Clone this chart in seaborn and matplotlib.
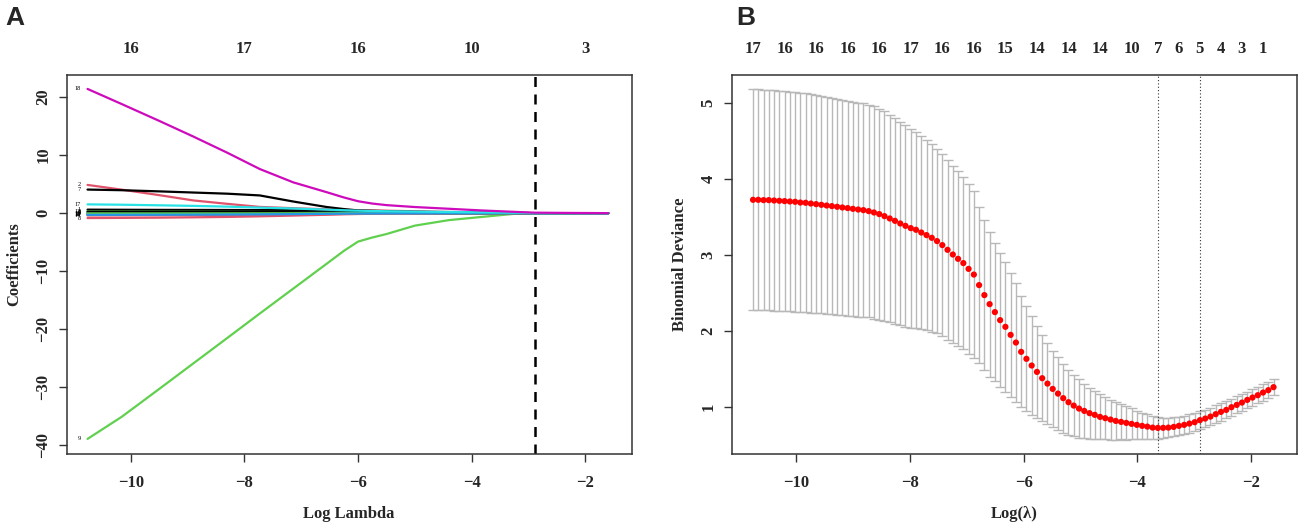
import numpy as np
import pandas as pd
import matplotlib
matplotlib.use("Agg")
import matplotlib.pyplot as plt
import seaborn as sns

# ---------------- data ----------------
# Panel A: coefficient paths (log lambda grid subset)
coef_loglam = [-10.76, -10.16, -9.5, -8.9, -8.3, -7.73, -7.14, -6.55, -6.25, -6.0,
               -5.75, -5.5, -5.0, -4.4, -3.8, -3.2, -2.9, -2.5, -2.0, -1.6]
coef_v1 = [0.60, 0.58, 0.56, 0.55, 0.54, 0.52, 0.50, 0.48, 0.46, 0.44, 0.40, 0.35, 0.25, 0.15, 0.08, 0.03, 0, 0, 0, 0]
coef_v2 = [4.86, 4.05, 3.10, 2.19, 1.60, 1.07, 0.85, 0.66, 0.58, 0.52, 0.47, 0.42, 0.32, 0.20, 0.10, 0.03, 0, 0, 0, 0]
coef_v3 = [0.30, 0.28, 0.26, 0.24, 0.22, 0.20, 0.18, 0.15, 0.12, 0.10, 0.07, 0.05, 0.02, 0, 0, 0, 0, 0, 0, 0]
coef_v4 = [0.10, 0.10, 0.10, 0.09, 0.09, 0.08, 0.07, 0.05, 0.04, 0.03, 0.02, 0.01, 0, 0, 0, 0, 0, 0, 0, 0]
coef_v5 = [0.15, 0.14, 0.13, 0.12, 0.11, 0.10, 0.08, 0.06, 0.05, 0.04, 0.03, 0.02, 0, 0, 0, 0, 0, 0, 0, 0]
coef_v6 = [-0.05, -0.05, -0.05, -0.04, -0.04, -0.03, -0.03, -0.02, -0.02, -0.01, -0.01, 0, 0, 0, 0, 0, 0, 0, 0, 0]
coef_v7 = [4.06, 3.95, 3.75, 3.55, 3.35, 3.05, 2.00, 1.05, 0.70, 0.45, 0.38, 0.32, 0.22, 0.13, 0.06, 0.02, 0, 0, 0, 0]
coef_v8 = [-0.85, -0.82, -0.78, -0.72, -0.65, -0.55, -0.42, -0.28, -0.20, -0.15, -0.11, -0.08, -0.03, 0, 0, 0, 0, 0, 0, 0]
coef_v9 = [-38.9, -35.1, -30.3, -25.9, -21.5, -17.3, -13.0, -8.7, -6.5, -4.9, -4.2, -3.6, -2.15, -1.2, -0.63, -0.07, 0, 0, 0, 0]
coef_v10 = [-0.15, -0.15, -0.14, -0.14, -0.13, -0.12, -0.10, -0.08, -0.06, -0.05, -0.03, -0.02, 0, 0, 0, 0, 0, 0, 0, 0]
coef_v11 = [-0.10, -0.10, -0.09, -0.09, -0.08, -0.07, -0.06, -0.04, -0.03, -0.02, -0.015, -0.01, 0, 0, 0, 0, 0, 0, 0, 0]
coef_v12 = [-0.25, -0.24, -0.23, -0.22, -0.20, -0.18, -0.15, -0.11, -0.09, -0.07, -0.05, -0.03, -0.01, 0, 0, 0, 0, 0, 0, 0]
coef_v13 = [0.25, 0.24, 0.23, 0.22, 0.21, 0.19, 0.17, 0.14, 0.12, 0.10, 0.08, 0.06, 0.03, 0.01, 0, 0, 0, 0, 0, 0]
coef_v14 = [-0.40, -0.38, -0.36, -0.34, -0.31, -0.27, -0.22, -0.16, -0.13, -0.10, -0.07, -0.05, -0.02, 0, 0, 0, 0, 0, 0, 0]
coef_v15 = [-0.05, -0.05, -0.05, -0.04, -0.04, -0.03, -0.02, -0.01, -0.005, 0, 0, 0, 0, 0, 0, 0, 0, 0, 0, 0]
coef_v16 = [-0.30, -0.29, -0.28, -0.26, -0.24, -0.21, -0.17, -0.12, -0.09, -0.07, -0.05, -0.03, -0.01, 0, 0, 0, 0, 0, 0, 0]
coef_v17 = [1.51, 1.45, 1.35, 1.25, 1.12, 0.95, 0.80, 0.60, 0.50, 0.42, 0.37, 0.33, 0.27, 0.20, 0.14, 0.07, 0, 0, 0, 0]
coef_v18 = [21.4, 18.8, 15.9, 13.2, 10.4, 7.6, 5.3, 3.6, 2.7, 2.05, 1.65, 1.38, 1.05, 0.75, 0.45, 0.20, 0.08, 0.05, 0.02, 0.0]
coef_all = [coef_v1, coef_v2, coef_v3, coef_v4, coef_v5, coef_v6, coef_v7, coef_v8, coef_v9,
            coef_v10, coef_v11, coef_v12, coef_v13, coef_v14, coef_v15, coef_v16, coef_v17, coef_v18]
coef_top_pos = [-10, -8, -6, -4, -2]
coef_top_lab = ["16", "17", "16", "10", "3"]
lambda_1se = -2.88

# Panel B: cross-validation curve
cv_loglam = [-10.760, -10.668, -10.575, -10.483, -10.390, -10.298, -10.205, -10.113, -10.020, -9.928,
             -9.835, -9.743, -9.650, -9.558, -9.465, -9.373, -9.280, -9.188, -9.095, -9.003,
             -8.910, -8.818, -8.725, -8.633, -8.540, -8.448, -8.355, -8.263, -8.170, -8.078,
             -7.985, -7.893, -7.800, -7.708, -7.615, -7.523, -7.430, -7.338, -7.245, -7.153,
             -7.060, -6.968, -6.875, -6.783, -6.690, -6.598, -6.505, -6.413, -6.320, -6.228,
             -6.135, -6.043, -5.950, -5.858, -5.765, -5.673, -5.580, -5.488, -5.395, -5.303,
             -5.210, -5.118, -5.025, -4.933, -4.840, -4.748, -4.655, -4.563, -4.470, -4.378,
             -4.285, -4.193, -4.100, -4.008, -3.915, -3.823, -3.730, -3.638, -3.545, -3.453,
             -3.360, -3.268, -3.175, -3.083, -2.990, -2.898, -2.805, -2.713, -2.620, -2.528,
             -2.435, -2.343, -2.250, -2.158, -2.065, -1.973, -1.880, -1.788, -1.695, -1.603]
cv_mean = [3.725, 3.725, 3.721, 3.721, 3.716, 3.712, 3.708, 3.703, 3.699, 3.689,
           3.686, 3.676, 3.668, 3.659, 3.650, 3.642, 3.633, 3.624, 3.616, 3.606,
           3.597, 3.589, 3.576, 3.558, 3.537, 3.510, 3.479, 3.448, 3.413, 3.382,
           3.352, 3.330, 3.294, 3.260, 3.224, 3.181, 3.128, 3.066, 3.004, 2.947,
           2.891, 2.815, 2.740, 2.601, 2.469, 2.350, 2.245, 2.139, 2.051, 1.945,
           1.844, 1.721, 1.629, 1.541, 1.457, 1.374, 1.303, 1.233, 1.171, 1.111,
           1.058, 1.013, 0.974, 0.943, 0.913, 0.891, 0.864, 0.847, 0.829, 0.811,
           0.798, 0.785, 0.772, 0.759, 0.746, 0.736, 0.723, 0.719, 0.720, 0.723,
           0.732, 0.746, 0.759, 0.776, 0.794, 0.821, 0.842, 0.868, 0.900, 0.930,
           0.956, 0.992, 1.022, 1.053, 1.088, 1.119, 1.150, 1.185, 1.216, 1.256]
cv_se = [1.455, 1.455, 1.454, 1.453, 1.452, 1.451, 1.450, 1.448, 1.446, 1.444,
         1.441, 1.438, 1.435, 1.432, 1.429, 1.426, 1.423, 1.420, 1.417, 1.414,
         1.410, 1.406, 1.402, 1.398, 1.390, 1.380, 1.368, 1.355, 1.342, 1.328,
         1.312, 1.295, 1.276, 1.257, 1.237, 1.217, 1.198, 1.187, 1.169, 1.154,
         1.136, 1.116, 1.096, 1.026, 0.984, 0.954, 0.910, 0.886, 0.853, 0.817,
         0.784, 0.732, 0.690, 0.648, 0.609, 0.567, 0.530, 0.505, 0.480, 0.455,
         0.428, 0.407, 0.387, 0.360, 0.338, 0.319, 0.297, 0.279, 0.264, 0.246,
         0.231, 0.220, 0.204, 0.187, 0.174, 0.163, 0.150, 0.140, 0.133, 0.128,
         0.125, 0.123, 0.122, 0.121, 0.120, 0.119, 0.117, 0.116, 0.115, 0.114,
         0.113, 0.112, 0.111, 0.110, 0.109, 0.108, 0.107, 0.106, 0.105, 0.104]
cv_top_idx = [1, 7, 13, 19, 25, 31, 37, 43, 49, 55, 61, 67, 73, 78, 82, 86, 90, 94, 98]
cv_top_lab = ["17", "16", "16", "16", "16", "17", "16", "16", "15", "14",
              "14", "14", "10", "7", "6", "5", "4", "3", "1"]
cv_min_idx = 78
cv_1se_idx = 86

# ---------------- style ----------------
sns.set_theme(style="white")
plt.rcParams['font.family'] = ['Liberation Serif', 'DejaVu Serif']
plt.rcParams['font.weight'] = 'bold'
plt.rcParams['axes.labelweight'] = 'bold'

r_cols = ["black", "#DF536B", "#61D04F", "#2297E6", "#28E2E5", "#CD0BBC"]
W, H = 1299, 524
fig = plt.figure(figsize=(W / 100, H / 100), dpi=100)

XLIM = (-11.13, -1.19)
TICKFS = 12
BOX_TOP, BOX_BOT = 75, 454


def style_axes(ax):
    for s in ax.spines.values():
        s.set_color("#333333")
        s.set_linewidth(1.1)
        s.set_visible(True)
    ax.tick_params(axis="both", direction="out", length=6, width=1, color="#333333",
                   labelsize=TICKFS, bottom=True, left=True)
    ax.tick_params(axis="x", pad=9)
    ax.tick_params(axis="y", pad=5)
    for lab in ax.get_yticklabels():
        lab.set_rotation(90)
        lab.set_va("center")
    for lab in ax.get_xticklabels() + ax.get_yticklabels():
        lab.set_fontweight("bold")


def add_top(ax, pos, labs):
    top = ax.twiny()
    top.set_xlim(*XLIM)
    top.set_xticks(pos)
    top.set_xticklabels(labs, fontsize=TICKFS, fontweight="bold")
    top.tick_params(axis="x", length=0, pad=13, top=True)
    for s in top.spines.values():
        s.set_visible(False)
    return top


# ---------------- Panel A ----------------
axA = fig.add_axes([66.5 / W, (H - BOX_BOT) / H, 565 / W, (BOX_BOT - BOX_TOP) / H])
rows = []
for i, vals in enumerate(coef_all):
    for x, y in zip(coef_loglam, vals):
        rows.append({"loglam": x, "coef": y, "var": str(i + 1)})
dfA = pd.DataFrame(rows)
var_order = [str(i + 1) for i in range(len(coef_all))]
palA = {v: r_cols[i % 6] for i, v in enumerate(var_order)}
sns.lineplot(data=dfA, x="loglam", y="coef", hue="var", hue_order=var_order,
             palette=palA, estimator=None, sort=False, legend=False,
             linewidth=1.6, ax=axA)
for i, vals in enumerate(coef_all):
    axA.text(coef_loglam[0] - 0.12, vals[0], str(i + 1), ha="right", va="center",
             fontsize=4.5, fontweight="normal", color="black")
axA.axvline(lambda_1se, color="black", linestyle=(0, (4, 3)), linewidth=1.8)
axA.set_xlim(*XLIM)
axA.set_ylim(-41.5, 23.8)
axA.set_xticks([-10, -8, -6, -4, -2])
axA.set_xticklabels(["\u221210", "\u22128", "\u22126", "\u22124", "\u22122"])
axA.set_yticks([-40, -30, -20, -10, 0, 10, 20])
axA.set_yticklabels(["\u221240", "\u221230", "\u221220", "\u221210", "0", "10", "20"])
axA.set_xlabel("Log Lambda", fontsize=12, fontweight="bold", labelpad=11)
axA.set_ylabel("Coefficients", fontsize=12, fontweight="bold", labelpad=9)
style_axes(axA)
add_top(axA, coef_top_pos, coef_top_lab)

# ---------------- Panel B ----------------
axB = fig.add_axes([732 / W, (H - BOX_BOT) / H, 565 / W, (BOX_BOT - BOX_TOP) / H])
dfB = pd.DataFrame({"loglam": cv_loglam, "mean": cv_mean, "se": cv_se})
axB.errorbar(dfB["loglam"], dfB["mean"], yerr=dfB["se"], fmt="none",
             ecolor="#B8B8B8", elinewidth=1.0, capsize=3.7, capthick=1.0, zorder=1)
sns.scatterplot(data=dfB, x="loglam", y="mean", color="#FF0000", s=20,
                edgecolor="none", ax=axB, zorder=3)
axB.axvline(cv_loglam[cv_min_idx - 1], color="#333333", linestyle=(0, (1, 2)), linewidth=0.8)
axB.axvline(cv_loglam[cv_1se_idx - 1], color="#333333", linestyle=(0, (1, 2)), linewidth=0.8)
axB.set_xlim(*XLIM)
axB.set_ylim(0.375, 5.37)
axB.set_xticks([-10, -8, -6, -4, -2])
axB.set_xticklabels(["\u221210", "\u22128", "\u22126", "\u22124", "\u22122"])
axB.set_yticks([1, 2, 3, 4, 5])
axB.set_xlabel("Log(\u03bb)", fontsize=12, fontweight="bold", labelpad=11)
axB.set_ylabel("Binomial Deviance", fontsize=12, fontweight="bold", labelpad=9)
style_axes(axB)
add_top(axB, [cv_loglam[i - 1] for i in cv_top_idx], cv_top_lab)

# panel letters
fig.text(15 / W, 1 - 18 / H, "A", fontsize=19, fontweight="bold",
         family=["Liberation Sans", "DejaVu Sans"], ha="center", va="center")
fig.text(746 / W, 1 - 18 / H, "B", fontsize=19, fontweight="bold",
         family=["Liberation Sans", "DejaVu Sans"], ha="center", va="center")

fig.savefig("out.png", dpi=100)
